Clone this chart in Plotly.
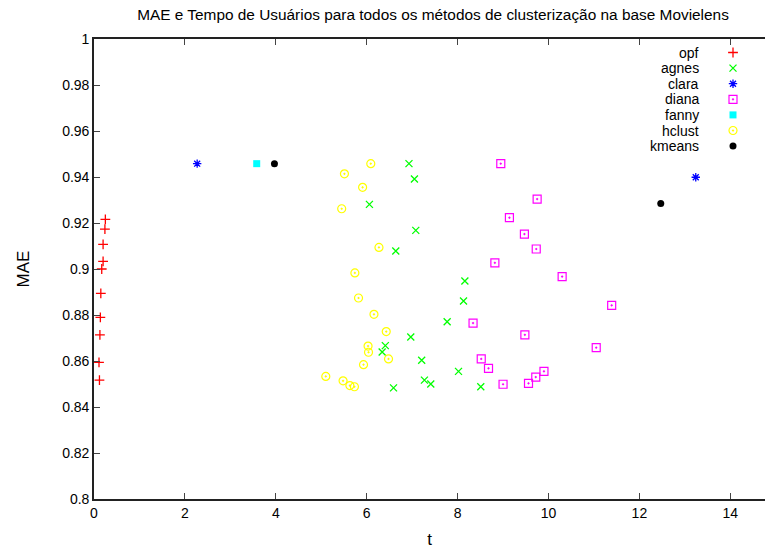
import plotly.graph_objects as go

title_text = "MAE e Tempo de Usuários para todos os métodos de clusterização na base Movielens"

opf_t = [0.25, 0.24, 0.20, 0.20, 0.17, 0.15, 0.14, 0.13, 0.11, 0.12]
opf_mae = [0.9216, 0.9173, 0.9107, 0.9033, 0.9000, 0.8894, 0.8790, 0.8714, 0.8594, 0.8517]

agnes_t = [6.93, 7.05, 6.06, 7.08, 6.64, 8.16, 8.13, 7.77, 6.97, 6.41, 6.34, 7.21, 8.02, 7.27, 7.41, 6.59, 8.51]
agnes_mae = [0.9458, 0.9391, 0.9281, 0.9168, 0.9078, 0.8948, 0.8861, 0.8771, 0.8704, 0.8667, 0.8639,
             0.8603, 0.8555, 0.8517, 0.8500, 0.8483, 0.8488]

clara_t = [2.27, 13.24]
clara_mae = [0.9458, 0.9399]

diana_t = [8.95, 9.75, 9.14, 9.47, 9.73, 8.82, 10.30, 11.39, 8.34, 9.48, 11.05, 8.52, 8.68, 9.90, 9.72, 9.56, 9.00]
diana_mae = [0.9458, 0.9304, 0.9223, 0.9152, 0.9087, 0.9027, 0.8967, 0.8842, 0.8765, 0.8714, 0.8658,
             0.8609, 0.8568, 0.8555, 0.8530, 0.8503, 0.8499]

fanny_t = [3.58]
fanny_mae = [0.9458]

hclust_t = [6.09, 5.51, 5.91, 5.45, 6.27, 5.74, 5.82, 6.16, 6.43, 6.03, 6.04, 6.48, 5.93, 5.48, 5.63, 5.73, 5.10]
hclust_mae = [0.9458, 0.9414, 0.9355, 0.9262, 0.9094, 0.8983, 0.8874, 0.8803, 0.8728, 0.8665, 0.8638,
              0.8609, 0.8584, 0.8514, 0.8493, 0.8488, 0.8533]

kmeans_t = [3.97, 12.47]
kmeans_mae = [0.9458, 0.9285]

x_ticks = [0, 2, 4, 6, 8, 10, 12, 14]
y_ticks = [0.8, 0.82, 0.84, 0.86, 0.88, 0.9, 0.92, 0.94, 0.96, 0.98, 1.0]
y_tick_text = ["0.8", "0.82", "0.84", "0.86", "0.88", "0.9", "0.92", "0.94", "0.96", "0.98", "1"]

series = [
    ("opf", opf_t, opf_mae, dict(symbol="cross-thin-open", size=7, color="#ff0000", line=dict(color="#ff0000", width=1.3))),
    ("agnes", agnes_t, agnes_mae, dict(symbol="x-thin-open", size=7, color="#00ff00", line=dict(color="#00ff00", width=1.3))),
    ("clara", clara_t, clara_mae, dict(symbol="asterisk-open", size=7, color="#0000ff", line=dict(color="#0000ff", width=1.3))),
    ("diana", diana_t, diana_mae, dict(symbol="square-open-dot", size=8, color="#ff00ff", line=dict(color="#ff00ff", width=1.2))),
    ("fanny", fanny_t, fanny_mae, dict(symbol="square", size=7, color="#00ffff", line=dict(width=0))),
    ("hclust", hclust_t, hclust_mae, dict(symbol="circle-open-dot", size=8, color="#ffff00", line=dict(color="#ffff00", width=1.2))),
    ("kmeans", kmeans_t, kmeans_mae, dict(symbol="circle", size=7, color="#000000", line=dict(width=0))),
]

W, H = 765, 550
L, T, B = 94, 39, 51
font_family = "Liberation Sans, Arial, sans-serif"

fig = go.Figure()
for name, xs, ys, mk in series:
    fig.add_trace(go.Scatter(x=xs, y=ys, mode="markers", name=name, marker=mk,
                             showlegend=False, cliponaxis=False))

# custom gnuplot-style legend (text right of symbol) on a pixel overlay axis
leg_text_x, leg_mark_x, leg_y0, leg_dy = 701, 733, 52.5, 15.6
for i, (name, xs, ys, mk) in enumerate(series):
    yy = leg_y0 + i * leg_dy
    fig.add_trace(go.Scatter(x=[leg_mark_x], y=[yy], mode="markers", marker=mk,
                             xaxis="x2", yaxis="y2", showlegend=False, hoverinfo="skip"))
    fig.add_annotation(x=leg_text_x, y=yy, xref="x2", yref="y2", text=name, showarrow=False,
                       xanchor="right", yanchor="middle", font=dict(size=14, color="#000000"))

fig.update_layout(
    width=W, height=H,
    margin=dict(l=L, r=0, t=T, b=B),
    paper_bgcolor="white", plot_bgcolor="white",
    font=dict(family=font_family, size=14, color="#000000"),
    title=dict(text=title_text, x=433 / W, xref="container", xanchor="center",
               y=1 - 15 / H, yanchor="middle", yref="container", font=dict(size=15.4)),
    xaxis=dict(range=[0, (W - L) / 45.45], tickvals=x_ticks, ticks="inside", ticklen=6,
               showline=True, linecolor="#222222", linewidth=1.6, mirror="ticks",
               showgrid=False, zeroline=False, title=dict(text="t", standoff=14)),
    yaxis=dict(range=[0.8, 1.0], tickvals=y_ticks, ticktext=y_tick_text, ticks="inside", ticklen=6,
               showline=True, linecolor="#222222", linewidth=1.6, mirror=False,
               showgrid=False, zeroline=False, title=dict(text="MAE", standoff=28)),
    xaxis2=dict(overlaying="x", range=[L, W], visible=False, fixedrange=True),
    yaxis2=dict(overlaying="y", range=[H - B, T], visible=False, fixedrange=True),
)

fig.write_html("out.html")
